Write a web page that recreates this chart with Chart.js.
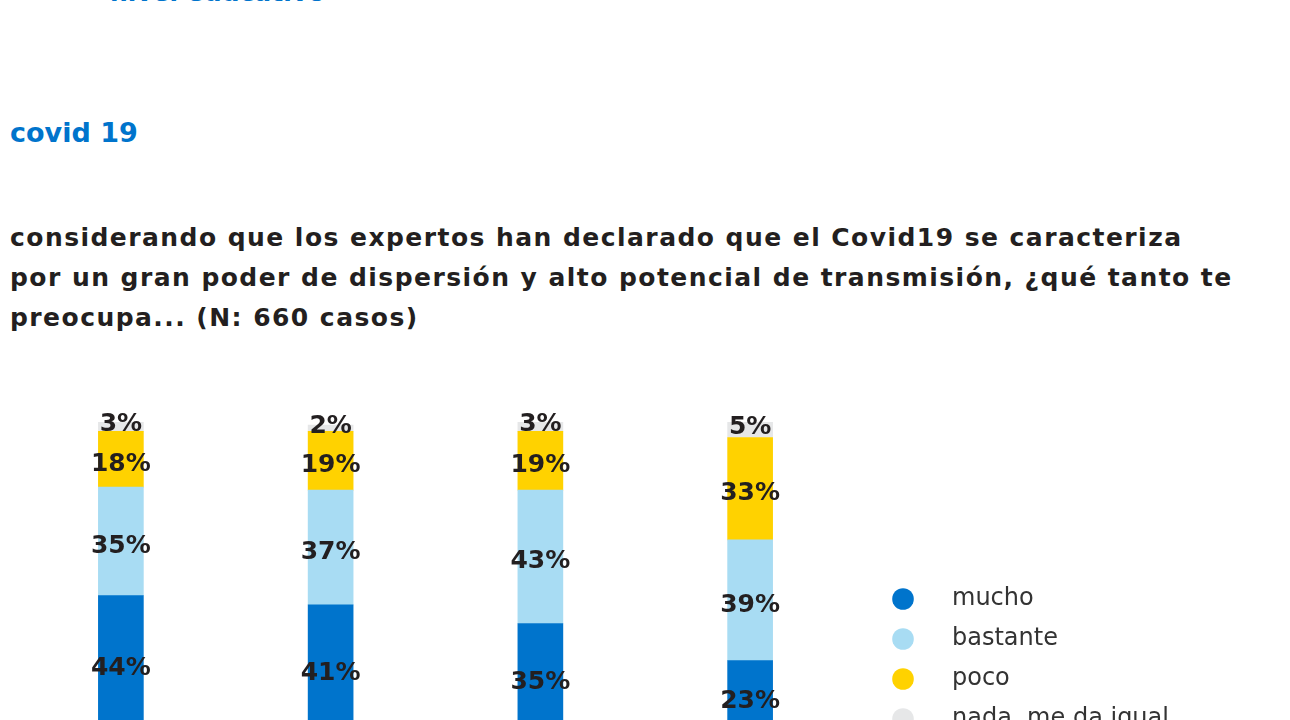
<!DOCTYPE html>
<html>
<head>
<meta charset="utf-8">
<script src="https://cdn.jsdelivr.net/npm/chart.js@4.4.1/dist/chart.umd.min.js"></script>
<style>
  html, body { margin:0; padding:0; width:1290px; height:720px; overflow:hidden; background:#ffffff; }
  .t { position:absolute; white-space:nowrap; font-family:"DejaVu Sans", sans-serif; font-weight:bold; }
  #sec { left:110px; top:-20px; font-size:25px; line-height:25px; color:#0074CC; }
  #sub { left:10px; top:119px; font-size:27px; line-height:27px; color:#0074CC; }
  #ttl { left:10px; top:218px; font-size:25px; line-height:40px; letter-spacing:1.45px; color:#231F20; }
  #wrap { position:absolute; left:0; top:0; width:1290px; height:760px; }
</style>
</head>
<body>
<div class="t" id="sec">nivel educativo</div>
<div class="t" id="sub">covid 19</div>
<div class="t" id="ttl">considerando que los expertos han declarado que el Covid19 se caracteriza<br>por un gran poder de dispersión y alto potencial de transmisión, ¿qué tanto te<br>preocupa... (N: 660 casos)</div>
<div id="wrap"><canvas id="c" width="1290" height="760"></canvas></div>
<script>
const categories = ["contagiarte", "contagiar a tu familia", "la economía", "tus estudios"];
const seriesNames = ["mucho", "bastante", "poco", "nada, me da igual"];
const mucho = [44, 41, 35, 23];
const bastante = [35, 37, 43, 39];
const poco = [18, 19, 19, 33];
const nada = [3, 2, 3, 5];
const colors = ["#0074CC", "#A8DCF3", "#FFD200", "#E6E7E8"];

const seriesValues = [mucho, bastante, poco, nada];

const labelPlugin = {
  id: "labels",
  afterDatasetsDraw(chart) {
    const ctx = chart.ctx;
    ctx.save();
    ctx.font = "bold 25px 'DejaVu Sans', sans-serif";
    ctx.fillStyle = "#231F20";
    ctx.textAlign = "center";
    ctx.textBaseline = "middle";
    chart.data.datasets.forEach((ds, di) => {
      const meta = chart.getDatasetMeta(di);
      meta.data.forEach((bar, i) => {
        const top = di === chart.data.datasets.length - 1;
        const y = (bar.y + bar.base) / 2 + (top ? -2 : 5);
        ctx.fillText(ds.data[i] + "%", bar.x, y);
      });
    });
    ctx.restore();
  }
};

const legendPlugin = {
  id: "sideLegend",
  afterDraw(chart) {
    const ctx = chart.ctx;
    ctx.save();
    ctx.font = "24px 'DejaVu Sans', sans-serif";
    ctx.textAlign = "left";
    ctx.textBaseline = "middle";
    chart.data.datasets.forEach((ds, di) => {
      const y = 599 + di * 40;
      ctx.beginPath();
      ctx.fillStyle = ds.backgroundColor;
      ctx.arc(903, y, 10.8, 0, Math.PI * 2);
      ctx.fill();
      ctx.fillStyle = "#333333";
      ctx.fillText(ds.label, 952, y);
    });
    ctx.restore();
  }
};

new Chart(document.getElementById("c"), {
  type: "bar",
  data: {
    labels: categories,
    datasets: seriesNames.map((n, i) => ({
      label: n,
      data: seriesValues[i],
      backgroundColor: colors[i],
      borderWidth: 0,
      barThickness: 45
    }))
  },
  options: {
    responsive: false,
    animation: false,
    devicePixelRatio: 1,
    layout: { padding: { left: 16, right: 435, top: 422, bottom: 28 } },
    scales: {
      x: { stacked: true, display: false },
      y: { stacked: true, display: false, min: 0, max: 100 }
    },
    plugins: { legend: { display: false }, tooltip: { enabled: false } }
  },
  plugins: [labelPlugin, legendPlugin]
});
</script>
</body>
</html>
